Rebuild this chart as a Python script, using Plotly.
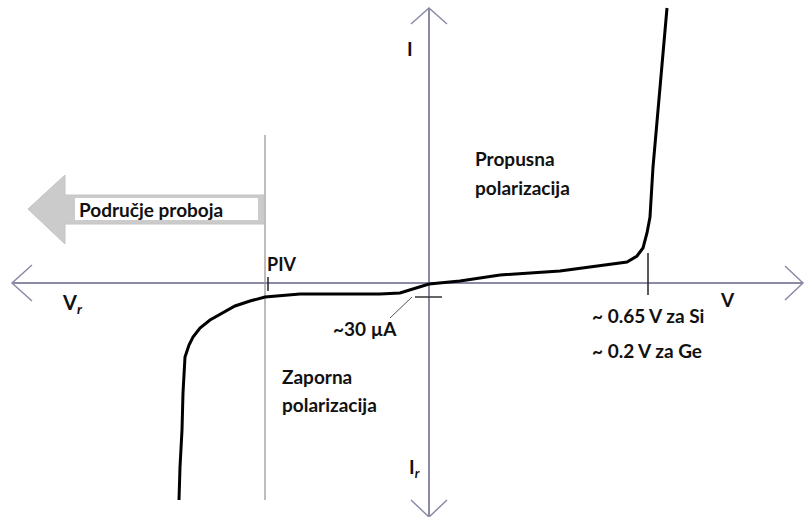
import plotly.graph_objects as go

# Diode I-V characteristic (schematic units, origin at axes crossing)
rev_v = [-250, -249, -247, -246, -244, -240, -236, -229, -219, -207, -194, -179, -164, -129, -49, -29, -14, 0]
rev_i = [-217, -184, -147, -110, -74, -62, -54, -45, -37, -30, -23, -18, -14, -11, -11, -10, -5, -1]
fwd_v = [31, 71, 131, 181, 198, 208, 214, 218, 221, 224, 229, 233, 236, 238]
fwd_i = [2, 8, 12, 19, 21, 27, 35, 50, 66, 116, 173, 216, 250, 275]

piv_v = -164          # PIV / breakdown boundary
knee_v = 219          # ~0.65 V marker
leak_i = -14          # ~30 uA leakage level

# axes extents
x_min, x_max = -417, 374
y_min, y_max = -234, 275

AX = "#8b8ba8"
TXT = "#111111"
FONT = "Lato"

fig = go.Figure()

def line(xs, ys, color, width):
    fig.add_trace(go.Scatter(x=xs, y=ys, mode="lines", line=dict(color=color, width=width),
                             hoverinfo="skip", showlegend=False))

# breakdown arrow shape
arr_x = [-401, -364, -364, -165, -165, -364, -364, -401]
arr_y = [74, 108, 88, 88, 59, 59, 39, 74]
fig.add_trace(go.Scatter(x=arr_x, y=arr_y, mode="lines", fill="toself", fillcolor="#cbcbcb",
                         line=dict(color="#c4c4c4", width=1), hoverinfo="skip", showlegend=False))
box_x = [-354, -171, -171, -354, -354]
box_y = [85, 85, 63, 63, 85]
fig.add_trace(go.Scatter(x=box_x, y=box_y, mode="lines", fill="toself", fillcolor="white",
                         line=dict(color="white", width=0), hoverinfo="skip", showlegend=False))

# PIV boundary line
line([piv_v, piv_v], [148, -217], "#bdbdbd", 2)

# axes with open arrow heads
line([x_min, x_max], [0, 0], AX, 2)
line([x_min + 20, x_min, x_min + 20], [18, 0, -18], AX, 1.5)
line([x_max - 18, x_max, x_max - 18], [17, 0, -17], AX, 1.5)
line([0, 0], [y_min, y_max], AX, 2)
line([-18, 0, 18], [y_max - 16, y_max, y_max - 16], AX, 1.5)
line([-18, 0, 18], [y_min + 17, y_min, y_min + 17], AX, 1.5)

# markers
line([piv_v + 3, piv_v + 3], [6, -8], "#222222", 1.5)
line([knee_v, knee_v], [30, -12], "#222222", 1.5)
line([-14, 13], [leak_i, leak_i], "#333333", 1.5)
line([-17, -39], [-14, -35], "#555555", 1)

# characteristic curve
line(rev_v + fwd_v, rev_i + fwd_i, "black", 3)

def txt(x, y, s, size=19, xanchor="left"):
    fig.add_annotation(x=x, y=y, text="<b>" + s + "</b>", showarrow=False, xanchor=xanchor,
                       yanchor="middle", font=dict(family=FONT, size=size, color=TXT))

txt(-19, 235, "I", 19, "center")
txt(44, 125, "Propusna")
txt(44, 96, "polarizacija")
txt(-352, 74, "Područje proboja")
txt(-164, 19, "PIV", 18)
txt(-369, -20, "V<sub><i>r</i></sub>", 20)
txt(-98, -45, "~30 µA")
txt(161, -32, "~ 0.65 V za Si")
txt(161, -67, "~ 0.2 V za Ge")
txt(289, -16, "V", 19)
txt(-149, -93, "Zaporna")
txt(-149, -121, "polarizacija")
txt(-22, -185, "I<sub><i>r</i></sub>", 19)

fig.update_xaxes(range=[-429, 376], visible=False)
fig.update_yaxes(range=[-234, 283], visible=False)
fig.update_layout(width=805, height=517, margin=dict(l=0, r=0, t=0, b=0),
                  plot_bgcolor="white", paper_bgcolor="white")

fig.write_html("out.html", config={"displayModeBar": False},
               post_script="document.body.style.margin='0';document.body.style.overflow='hidden';")
